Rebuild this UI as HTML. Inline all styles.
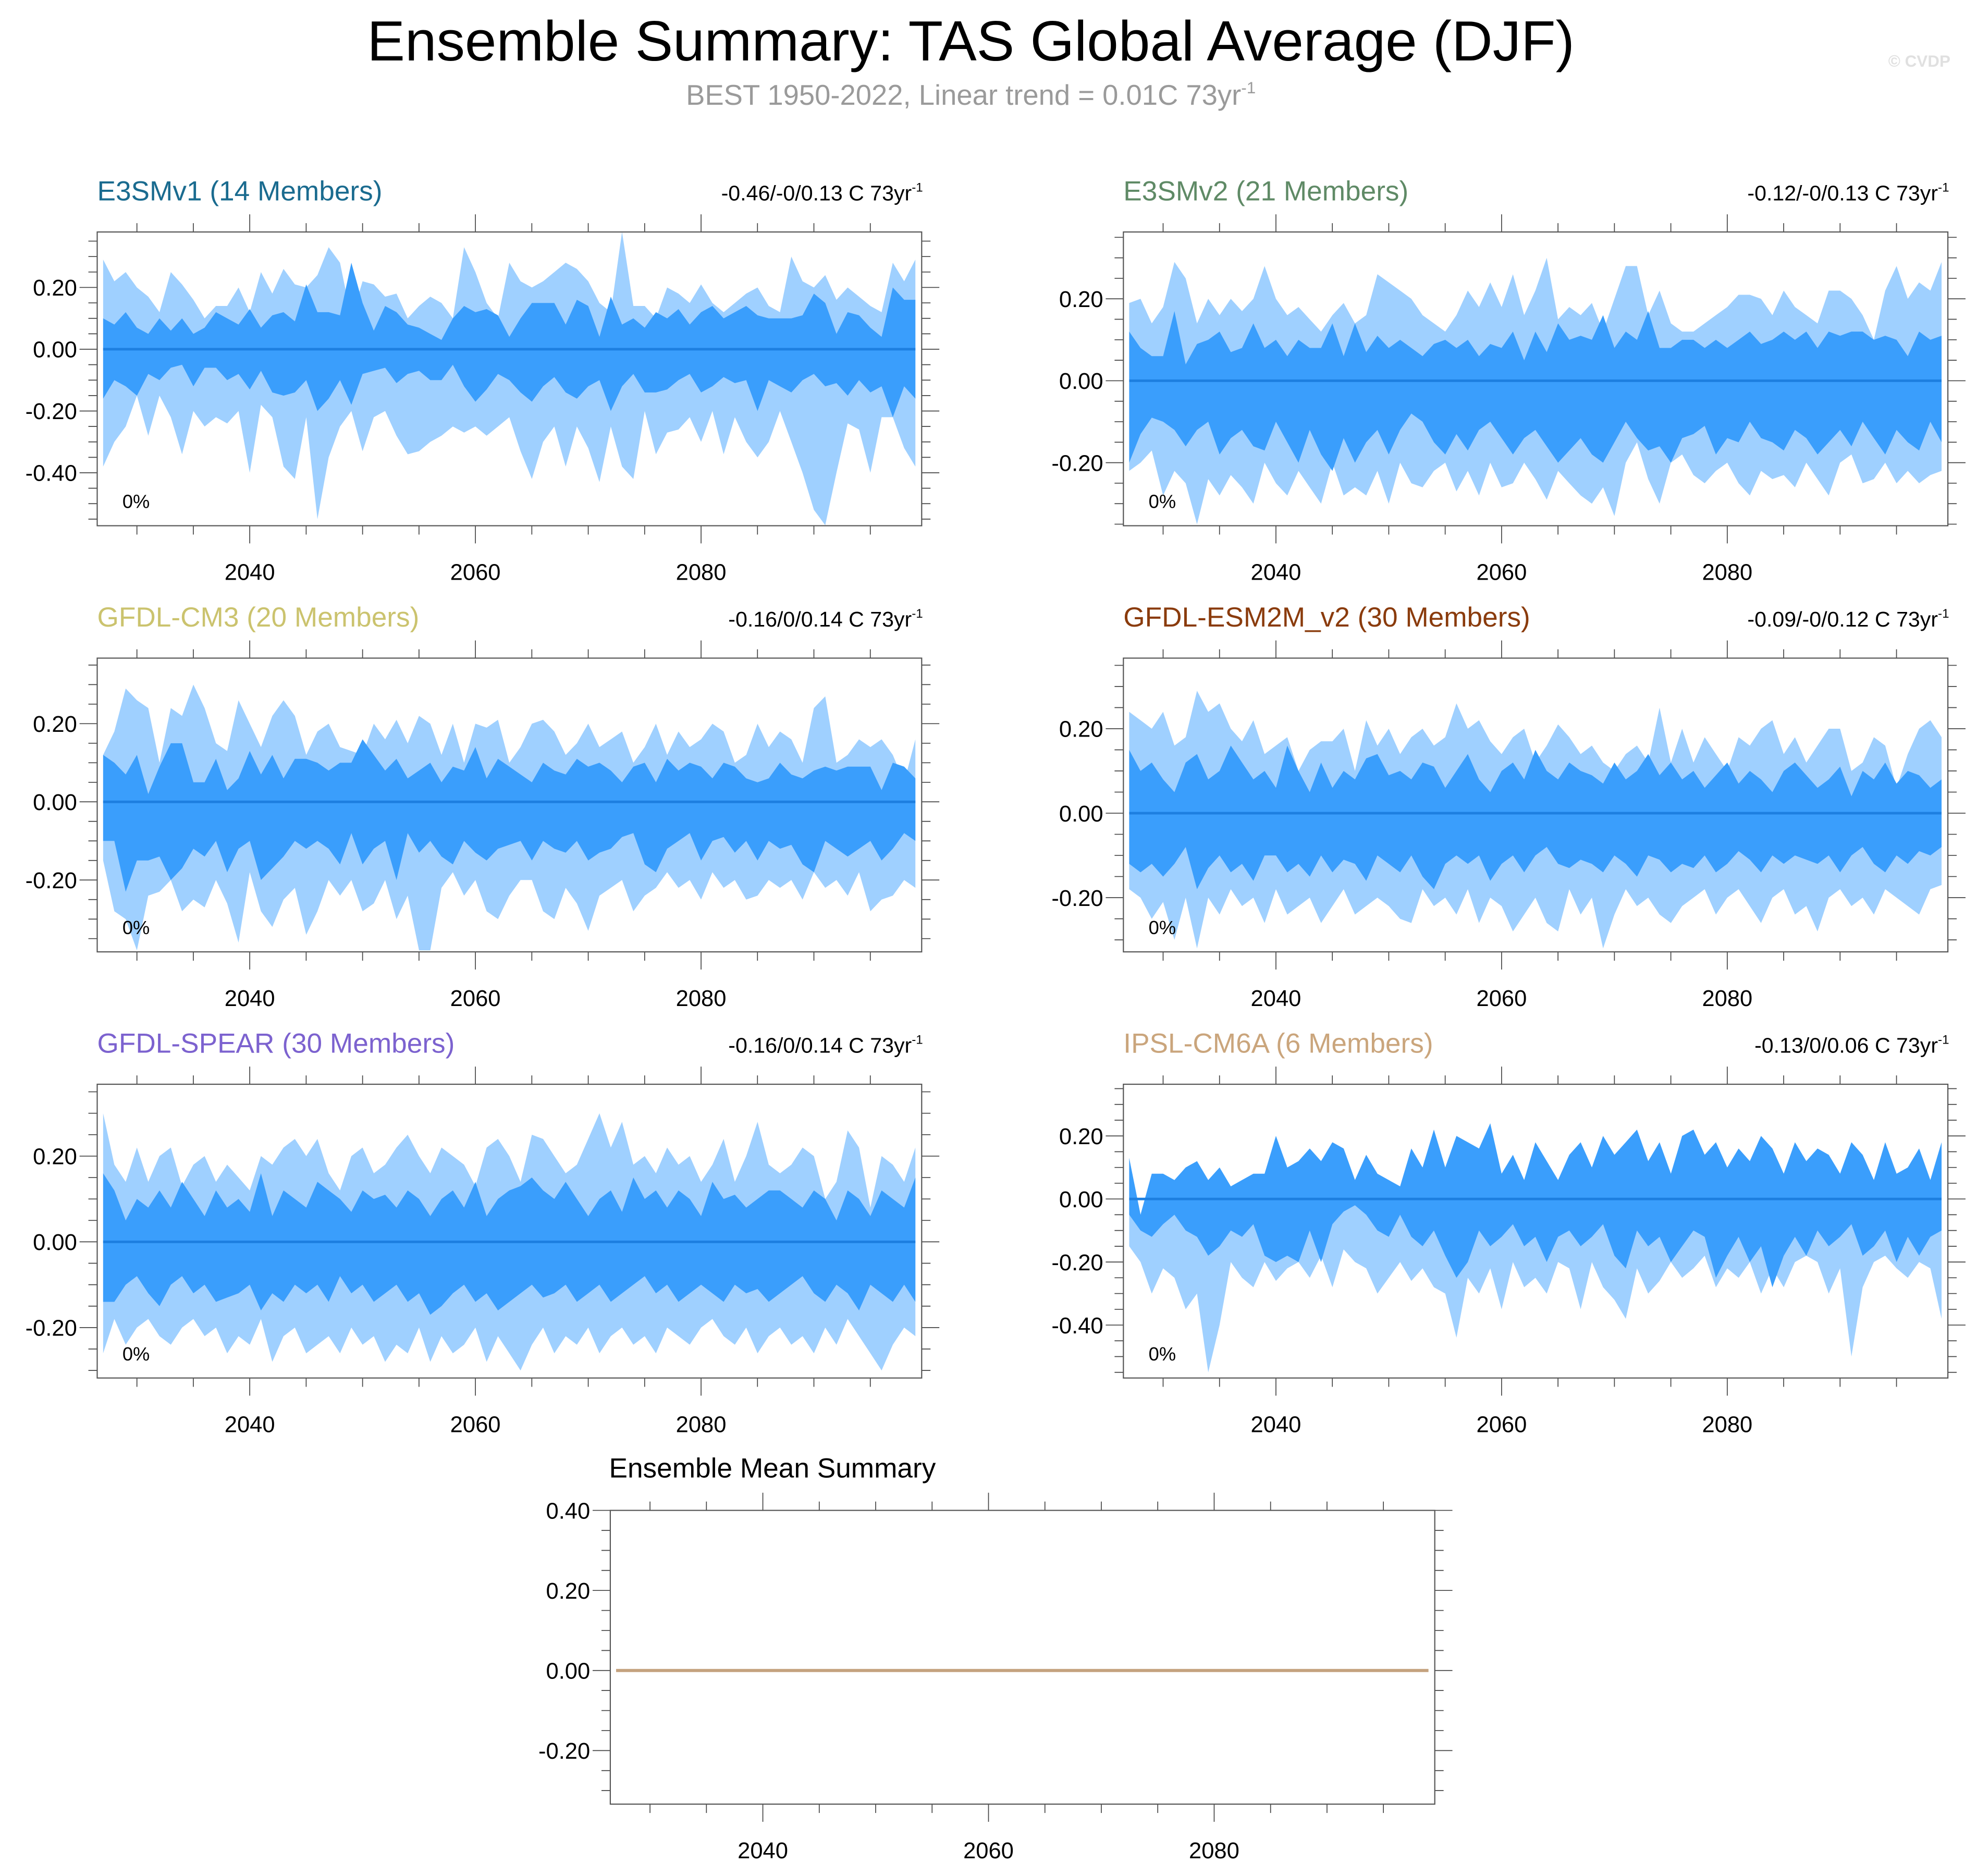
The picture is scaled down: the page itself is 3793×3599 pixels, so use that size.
<!DOCTYPE html>
<html><head><meta charset="utf-8"><style>
html,body{margin:0;padding:0;background:#fff;}
svg{display:block;font-family:"Liberation Sans",sans-serif;}
</style></head><body>
<svg id="chart" width="3793" height="3599" viewBox="0 0 1568 1488" xmlns="http://www.w3.org/2000/svg">
<rect width="1568" height="1488" fill="#fff"/>
<text x="770" y="48" font-size="45" text-anchor="middle" fill="#000">Ensemble Summary: TAS Global Average (DJF)</text>
<text x="770" y="83" font-size="22.5" text-anchor="middle" fill="#9a9a9a">BEST 1950-2022, Linear trend = 0.01C 73yr<tspan dy="-9" font-size="13">-1</tspan></text>
<text x="1547" y="53" font-size="13" text-anchor="end" fill="#e0e0e0" font-weight="bold">© CVDP</text>
<g id="panels"></g>
</svg>
<script>
const startYear = 2027;
const xTickYears = [2040, 2060, 2080];
// Panel data (anomaly bands, °C)
const e3v1_ou = [.29,.22,.25,.20,.17,.12,.25,.21,.16,.10,.14,.14,.20,.12,.25,.18,.26,.21,.20,.24,.33,.28,.10,.22,.21,.17,.18,.10,.14,.17,.15,.10,.33,.25,.15,.10,.28,.22,.20,.22,.25,.28,.26,.22,.15,.12,.38,.14,.14,.10,.20,.18,.15,.21,.15,.12,.15,.18,.20,.14,.12,.30,.22,.20,.24,.16,.20,.17,.14,.12,.28,.22,.29];
const e3v1_iu = [.10,.08,.12,.07,.05,.10,.06,.10,.05,.07,.12,.10,.08,.13,.07,.11,.12,.09,.21,.12,.12,.11,.28,.15,.06,.14,.12,.08,.07,.05,.03,.10,.14,.12,.13,.11,.04,.10,.15,.15,.15,.08,.16,.14,.04,.17,.08,.10,.07,.12,.10,.13,.08,.12,.14,.10,.12,.14,.11,.10,.10,.10,.11,.18,.15,.05,.12,.11,.07,.04,.20,.16,.16];
const e3v1_il = [-.16,-.10,-.12,-.15,-.08,-.10,-.06,-.05,-.12,-.06,-.06,-.10,-.08,-.13,-.07,-.14,-.15,-.14,-.10,-.20,-.16,-.10,-.18,-.08,-.07,-.06,-.11,-.08,-.07,-.10,-.10,-.05,-.12,-.17,-.13,-.08,-.10,-.14,-.17,-.12,-.09,-.14,-.16,-.12,-.10,-.20,-.12,-.08,-.14,-.14,-.13,-.10,-.08,-.14,-.12,-.09,-.11,-.10,-.20,-.10,-.12,-.14,-.10,-.08,-.12,-.11,-.15,-.10,-.14,-.12,-.22,-.12,-.16];
const e3v1_ol = [-.38,-.30,-.25,-.15,-.28,-.15,-.22,-.34,-.20,-.25,-.22,-.24,-.20,-.40,-.18,-.22,-.38,-.42,-.22,-.55,-.35,-.25,-.20,-.33,-.22,-.20,-.28,-.34,-.33,-.30,-.28,-.25,-.27,-.25,-.28,-.25,-.22,-.33,-.42,-.30,-.25,-.38,-.25,-.32,-.43,-.25,-.38,-.42,-.20,-.34,-.27,-.26,-.22,-.30,-.20,-.34,-.22,-.30,-.35,-.30,-.20,-.30,-.40,-.52,-.57,-.40,-.24,-.26,-.40,-.22,-.22,-.32,-.38];

const e3v2_ou = [.19,.20,.14,.18,.29,.25,.14,.20,.16,.20,.17,.20,.28,.20,.16,.18,.15,.12,.16,.19,.14,.16,.26,.24,.22,.20,.16,.14,.12,.16,.22,.18,.24,.18,.26,.16,.22,.30,.15,.18,.16,.19,.12,.20,.28,.28,.16,.22,.14,.12,.12,.14,.16,.18,.21,.21,.20,.16,.22,.18,.16,.14,.22,.22,.20,.16,.10,.22,.28,.20,.24,.22,.29];
const e3v2_iu = [.12,.08,.06,.06,.17,.04,.09,.10,.12,.07,.08,.14,.08,.10,.06,.10,.08,.08,.14,.06,.14,.07,.11,.08,.10,.08,.06,.09,.10,.08,.10,.06,.09,.08,.12,.05,.12,.07,.14,.10,.11,.10,.16,.08,.12,.10,.17,.08,.08,.10,.10,.08,.10,.08,.10,.12,.09,.10,.12,.10,.12,.08,.12,.11,.12,.12,.10,.11,.10,.06,.12,.10,.11];
const e3v2_il = [-.20,-.13,-.09,-.10,-.12,-.16,-.12,-.10,-.18,-.14,-.12,-.16,-.17,-.10,-.15,-.20,-.12,-.18,-.22,-.14,-.20,-.15,-.12,-.18,-.12,-.08,-.10,-.15,-.18,-.13,-.17,-.12,-.10,-.14,-.18,-.14,-.12,-.16,-.20,-.17,-.14,-.18,-.20,-.15,-.10,-.14,-.17,-.16,-.20,-.14,-.13,-.11,-.18,-.14,-.15,-.10,-.14,-.15,-.17,-.12,-.14,-.18,-.15,-.12,-.16,-.10,-.14,-.18,-.12,-.15,-.17,-.10,-.15];
const e3v2_ol = [-.22,-.20,-.17,-.28,-.22,-.25,-.35,-.24,-.28,-.23,-.26,-.30,-.20,-.25,-.28,-.22,-.26,-.30,-.20,-.28,-.26,-.28,-.22,-.30,-.20,-.25,-.26,-.22,-.20,-.27,-.22,-.28,-.20,-.26,-.25,-.20,-.24,-.29,-.22,-.25,-.28,-.30,-.26,-.33,-.20,-.15,-.24,-.30,-.20,-.18,-.23,-.25,-.22,-.20,-.25,-.28,-.22,-.24,-.23,-.26,-.20,-.24,-.28,-.20,-.18,-.25,-.24,-.20,-.25,-.22,-.25,-.23,-.22];

const cm3_ou = [.12,.18,.29,.26,.24,.10,.24,.22,.30,.24,.15,.13,.26,.20,.14,.22,.26,.22,.12,.18,.20,.14,.13,.12,.20,.16,.21,.15,.22,.20,.12,.20,.10,.20,.19,.21,.10,.14,.20,.21,.18,.12,.15,.20,.14,.16,.18,.10,.14,.20,.12,.18,.14,.16,.20,.18,.10,.12,.20,.14,.18,.16,.10,.24,.27,.10,.12,.16,.14,.16,.12,.05,.16];
const cm3_iu = [.12,.10,.07,.12,.02,.09,.15,.15,.05,.05,.11,.03,.06,.13,.07,.12,.06,.11,.11,.10,.08,.10,.10,.16,.12,.08,.11,.06,.08,.10,.05,.09,.08,.14,.06,.11,.09,.07,.05,.10,.08,.07,.11,.09,.10,.08,.05,.09,.10,.05,.11,.08,.10,.09,.06,.10,.09,.06,.05,.06,.10,.07,.06,.08,.09,.08,.09,.09,.09,.03,.10,.09,.06];
const cm3_il = [-.10,-.10,-.23,-.15,-.15,-.14,-.20,-.17,-.12,-.14,-.10,-.18,-.12,-.10,-.20,-.17,-.14,-.10,-.12,-.10,-.12,-.16,-.08,-.16,-.12,-.10,-.20,-.08,-.13,-.10,-.14,-.16,-.10,-.13,-.15,-.12,-.11,-.10,-.15,-.10,-.12,-.13,-.10,-.15,-.13,-.12,-.09,-.08,-.16,-.18,-.12,-.10,-.08,-.15,-.10,-.09,-.13,-.10,-.15,-.10,-.12,-.11,-.16,-.18,-.10,-.12,-.14,-.12,-.10,-.15,-.12,-.08,-.10];
const cm3_ol = [-.15,-.28,-.30,-.38,-.24,-.23,-.20,-.28,-.25,-.27,-.20,-.26,-.36,-.18,-.28,-.32,-.25,-.22,-.34,-.28,-.20,-.24,-.20,-.28,-.26,-.20,-.30,-.24,-.38,-.38,-.22,-.18,-.24,-.20,-.28,-.30,-.24,-.20,-.20,-.28,-.30,-.22,-.26,-.33,-.24,-.22,-.20,-.28,-.24,-.22,-.18,-.22,-.20,-.25,-.18,-.22,-.20,-.25,-.24,-.20,-.22,-.20,-.25,-.18,-.22,-.20,-.24,-.18,-.28,-.25,-.24,-.20,-.22];

const esm_ou = [.24,.22,.20,.24,.16,.18,.29,.24,.26,.20,.17,.22,.14,.16,.18,.10,.15,.17,.17,.20,.10,.22,.16,.20,.14,.18,.20,.16,.18,.26,.20,.22,.17,.14,.18,.20,.12,.16,.21,.18,.14,.16,.12,.10,.14,.16,.12,.25,.12,.20,.12,.18,.14,.10,.18,.16,.20,.22,.14,.18,.12,.16,.20,.20,.10,.12,.18,.16,.06,.14,.20,.22,.18];
const esm_iu = [.15,.10,.12,.08,.05,.12,.14,.08,.10,.16,.12,.08,.10,.06,.16,.10,.05,.12,.06,.10,.08,.13,.14,.09,.10,.08,.12,.11,.06,.10,.14,.08,.05,.10,.12,.08,.15,.10,.08,.12,.10,.09,.07,.12,.08,.10,.14,.09,.12,.08,.10,.06,.09,.12,.07,.10,.08,.05,.10,.12,.09,.06,.08,.11,.04,.10,.08,.12,.07,.10,.09,.06,.08];
const esm_il = [-.12,-.14,-.12,-.15,-.12,-.08,-.18,-.13,-.10,-.14,-.12,-.16,-.10,-.10,-.14,-.12,-.15,-.10,-.14,-.11,-.12,-.16,-.10,-.12,-.14,-.10,-.15,-.18,-.12,-.10,-.12,-.10,-.16,-.12,-.10,-.14,-.10,-.08,-.12,-.13,-.11,-.12,-.14,-.10,-.12,-.15,-.10,-.11,-.14,-.12,-.13,-.10,-.14,-.12,-.09,-.11,-.14,-.10,-.12,-.10,-.11,-.12,-.10,-.14,-.10,-.08,-.12,-.14,-.10,-.12,-.09,-.10,-.08];
const esm_ol = [-.18,-.20,-.25,-.21,-.30,-.20,-.32,-.20,-.24,-.18,-.22,-.20,-.26,-.18,-.24,-.22,-.20,-.26,-.22,-.18,-.24,-.22,-.20,-.22,-.25,-.26,-.18,-.22,-.20,-.24,-.18,-.26,-.20,-.22,-.28,-.24,-.20,-.26,-.28,-.18,-.24,-.20,-.32,-.24,-.18,-.22,-.20,-.24,-.26,-.22,-.20,-.18,-.24,-.20,-.18,-.22,-.26,-.20,-.18,-.24,-.22,-.28,-.20,-.18,-.22,-.20,-.24,-.18,-.20,-.22,-.24,-.18,-.17];

const spear_ou = [.30,.18,.14,.22,.14,.20,.22,.13,.18,.20,.14,.18,.15,.12,.20,.18,.22,.24,.20,.24,.16,.12,.20,.22,.16,.18,.22,.25,.20,.16,.22,.20,.18,.13,.22,.24,.20,.14,.25,.24,.20,.16,.18,.24,.30,.22,.28,.18,.20,.16,.22,.18,.20,.14,.18,.24,.14,.20,.28,.18,.16,.18,.22,.20,.10,.14,.26,.22,.08,.20,.18,.14,.22];
const spear_iu = [.16,.12,.05,.10,.08,.12,.08,.14,.10,.06,.12,.08,.10,.07,.16,.06,.12,.10,.08,.14,.12,.10,.07,.12,.10,.11,.08,.12,.10,.06,.10,.12,.08,.14,.06,.10,.12,.13,.15,.12,.10,.14,.10,.06,.10,.12,.07,.15,.10,.12,.08,.12,.10,.06,.14,.10,.11,.08,.10,.12,.12,.10,.08,.12,.10,.05,.12,.10,.06,.12,.10,.08,.15];
const spear_il = [-.14,-.14,-.10,-.08,-.12,-.15,-.10,-.08,-.12,-.10,-.14,-.13,-.12,-.10,-.16,-.12,-.14,-.10,-.12,-.10,-.14,-.08,-.12,-.10,-.14,-.12,-.10,-.14,-.12,-.17,-.15,-.12,-.10,-.14,-.12,-.16,-.14,-.12,-.10,-.13,-.12,-.10,-.14,-.12,-.10,-.14,-.12,-.10,-.08,-.12,-.10,-.14,-.12,-.10,-.12,-.14,-.10,-.12,-.11,-.14,-.12,-.10,-.08,-.12,-.14,-.10,-.12,-.16,-.10,-.12,-.14,-.10,-.14];
const spear_ol = [-.26,-.18,-.24,-.20,-.18,-.22,-.24,-.20,-.18,-.22,-.20,-.26,-.22,-.24,-.18,-.28,-.22,-.20,-.26,-.24,-.22,-.26,-.20,-.24,-.22,-.28,-.24,-.26,-.20,-.28,-.22,-.26,-.24,-.20,-.28,-.22,-.26,-.30,-.24,-.20,-.26,-.22,-.24,-.20,-.26,-.22,-.20,-.24,-.22,-.26,-.20,-.22,-.24,-.20,-.18,-.22,-.24,-.20,-.26,-.22,-.20,-.24,-.22,-.26,-.20,-.24,-.18,-.22,-.26,-.30,-.24,-.20,-.22];

const ipsl_ou = [.13,-.05,.08,.08,.06,.10,.12,.06,.10,.04,.06,.08,.08,.20,.10,.12,.16,.12,.18,.16,.06,.14,.08,.06,.04,.16,.10,.22,.10,.20,.18,.16,.24,.08,.14,.06,.18,.12,.06,.14,.18,.10,.20,.14,.18,.22,.12,.18,.08,.20,.22,.14,.18,.10,.16,.12,.20,.16,.08,.18,.12,.16,.14,.08,.18,.14,.06,.18,.08,.10,.16,.06,.18];
const ipsl_iu = [.13,-.05,.08,.08,.06,.10,.12,.06,.10,.04,.06,.08,.08,.20,.10,.12,.16,.12,.18,.16,.06,.14,.08,.06,.04,.16,.10,.22,.10,.20,.18,.16,.24,.08,.14,.06,.18,.12,.06,.14,.18,.10,.20,.14,.18,.22,.12,.18,.08,.20,.22,.14,.18,.10,.16,.12,.20,.16,.08,.18,.12,.16,.14,.08,.18,.14,.06,.18,.08,.10,.16,.06,.18];
const ipsl_il = [-.05,-.10,-.12,-.08,-.05,-.10,-.12,-.18,-.15,-.10,-.12,-.08,-.18,-.20,-.18,-.20,-.10,-.20,-.08,-.04,-.02,-.05,-.10,-.12,-.05,-.12,-.15,-.10,-.18,-.25,-.20,-.10,-.15,-.12,-.08,-.15,-.12,-.20,-.12,-.10,-.15,-.12,-.08,-.18,-.22,-.10,-.15,-.12,-.20,-.15,-.10,-.12,-.25,-.18,-.12,-.20,-.15,-.28,-.18,-.12,-.18,-.10,-.15,-.12,-.08,-.18,-.15,-.10,-.20,-.12,-.18,-.12,-.10];
const ipsl_ol = [-.15,-.20,-.30,-.22,-.25,-.35,-.30,-.55,-.40,-.20,-.25,-.28,-.20,-.26,-.22,-.20,-.25,-.18,-.28,-.16,-.20,-.22,-.30,-.25,-.20,-.26,-.22,-.28,-.30,-.44,-.25,-.30,-.22,-.35,-.20,-.28,-.25,-.30,-.20,-.22,-.35,-.20,-.28,-.32,-.38,-.22,-.30,-.26,-.20,-.25,-.22,-.18,-.28,-.22,-.25,-.20,-.30,-.22,-.28,-.20,-.18,-.20,-.30,-.22,-.50,-.28,-.20,-.18,-.22,-.25,-.20,-.22,-.38];

const ensMean = [0,0,0,0,0,0,0,0,0,0,0,0,0,0,0,0,0,0,0,0,0,0,0,0,0,0,0,0,0,0,0,0,0,0,0,0,0,0,0,0,0,0,0,0,0,0,0,0,0,0,0,0,0,0,0,0,0,0,0,0,0,0,0,0,0,0,0,0,0,0,0,0,0];

const panelNames = ["E3SMv1 (14 Members)","E3SMv2 (21 Members)","GFDL-CM3 (20 Members)","GFDL-ESM2M_v2 (30 Members)","GFDL-SPEAR (30 Members)","IPSL-CM6A (6 Members)"];
const trendLabels = ["-0.46/-0/0.13 C 73yr","-0.12/-0/0.13 C 73yr","-0.16/0/0.14 C 73yr","-0.09/-0/0.12 C 73yr","-0.16/0/0.14 C 73yr","-0.13/0/0.06 C 73yr"];
const yTickVals = [[0.2,0,-0.2,-0.4],[0.2,0,-0.2],[0.2,0,-0.2],[0.2,0,-0.2],[0.2,0,-0.2],[0.2,0,-0.2,-0.4]];
const bands = [[e3v1_ou,e3v1_iu,e3v1_il,e3v1_ol],[e3v2_ou,e3v2_iu,e3v2_il,e3v2_ol],[cm3_ou,cm3_iu,cm3_il,cm3_ol],[esm_ou,esm_iu,esm_il,esm_ol],[spear_ou,spear_iu,spear_il,spear_ol],[ipsl_ou,ipsl_iu,ipsl_il,ipsl_ol]];

// layout (not data)
const titleColors = ["#1a6b8f","#5f8a66","#cbc36e","#8a3b0c","#7c62cf","#caa57c"];
const layout = [
 {l:77,t:184,z:277,pp:245},{l:891,t:184,z:302,pp:325},
 {l:77,t:522,z:636,pp:310},{l:891,t:522,z:645,pp:335},
 {l:77,t:860,z:985,pp:340},{l:891,t:860,z:951,pp:250}];
const W=654,H=233,PPY=8.95;
const NS="http://www.w3.org/2000/svg";
const root=document.getElementById('panels');
function mk(tag,attrs,parent){const e=document.createElementNS(NS,tag);for(const k in attrs)e.setAttribute(k,attrs[k]);(parent||root).appendChild(e);return e;}

function drawAxes(g,L,yticks,idx){
  const xs=yr=>L.l+121+(yr-2040)*PPY;
  const ys=v=>L.z-v*L.pp;
  const r=L.l+W,b=L.t+H;
  const vmax=(L.z-L.t)/L.pp, vmin=-(b-L.z)/L.pp;
  for(let k=Math.ceil(vmin/0.05);k<=Math.floor(vmax/0.05);k++){
    const v=k*0.05,y=ys(v);const major=Math.abs(Math.round(v*100)%20)===0;
    const len=major?14:7;
    mk('line',{x1:L.l-len,x2:L.l,y1:y,y2:y,stroke:'#444','stroke-width':0.7},g);
    mk('line',{x1:r,x2:r+len,y1:y,y2:y,stroke:'#444','stroke-width':0.7},g);
  }
  for(let yr=2030;yr<=2095;yr+=5){const x=xs(yr);if(x<L.l||x>r)continue;const major=yr%20===0;const len=major?14:7;
    mk('line',{x1:x,x2:x,y1:L.t-len,y2:L.t,stroke:'#444','stroke-width':0.7},g);
    mk('line',{x1:x,x2:x,y1:b,y2:b+len,stroke:'#444','stroke-width':0.7},g);}
  yticks.forEach(v=>{const t=mk('text',{x:L.l-16,y:ys(v)+6.5,'font-size':18,'text-anchor':'end',fill:'#000'},g);t.textContent=v.toFixed(2);
    
    });
  xTickYears.forEach(yr=>{const t=mk('text',{x:xs(yr),y:b+43,'font-size':18,'text-anchor':'middle',fill:'#000'},g);t.textContent=yr;
    
    });
  mk('rect',{x:L.l,y:L.t,width:W,height:H,fill:'none',stroke:'#555','stroke-width':0.9},g);
  return {xs,ys};
}

bands.forEach((bd,i)=>{
  const L=layout[i];
  const g=mk('g',{});
  
  
  const cid='clip'+i;
  const cp=mk('clipPath',{id:cid},g);mk('rect',{x:L.l,y:L.t,width:W,height:H},cp);
  const xs=yr=>L.l+121+(yr-2040)*PPY, ys=v=>L.z-v*L.pp;
  const dg=mk('g',{'clip-path':'url(#'+cid+')'},g);
  const poly=(up,lo)=>{let p=up.map((v,j)=>xs(startYear+j).toFixed(1)+','+ys(v).toFixed(1));
    for(let j=lo.length-1;j>=0;j--)p.push(xs(startYear+j).toFixed(1)+','+ys(lo[j]).toFixed(1));return p.join(' ');};
  const o=mk('polygon',{points:poly(bd[0],bd[3]),fill:'#9fd0ff'},dg);
  
  
  const n=mk('polygon',{points:poly(bd[1],bd[2]),fill:'#3a9efc'},dg);
  
  
  const ml=mk('polyline',{points:ensMean.map((v,j)=>xs(startYear+j).toFixed(1)+','+ys(v).toFixed(1)).join(' '),fill:'none',stroke:'#1d7fe0','stroke-width':2},dg);
  
  
  drawAxes(g,L,yTickVals[i],i);
  const tt=mk('text',{x:L.l,y:L.t-25,'font-size':22,fill:titleColors[i]},g);tt.textContent=panelNames[i];
  
  
  const tr=mk('text',{x:L.l+W+1,y:L.t-25,'font-size':17,'text-anchor':'end',fill:'#000'},g);tr.textContent=trendLabels[i];
  const sup=mk('tspan',{dy:-7,'font-size':10},tr);sup.textContent='-1';
  
  
  const pc=mk('text',{x:L.l+20,y:L.t+H-14,'font-size':15,fill:'#000'},g);pc.textContent='0%';
  
  
});

// Ensemble mean summary panel
(function(){
  const L={l:484,t:1198,z:1325,pp:317.5};
  const g=mk('g',{});
  
  
  const xs=yr=>L.l+121+(yr-2040)*PPY, ys=v=>L.z-v*L.pp;
  const ln=mk('polyline',{points:ensMean.map((v,j)=>xs(startYear+j).toFixed(1)+','+ys(v).toFixed(1)).join(' '),fill:'none',stroke:'#c4a27e','stroke-width':2.5},g);
  
  
  drawAxes(g,L,[0.4,0.2,0,-0.2],6);
  const t=mk('text',{x:483,y:1172,'font-size':22,fill:'#000'},g);t.textContent='Ensemble Mean Summary';
  
  
})();
</script>
</body></html>
